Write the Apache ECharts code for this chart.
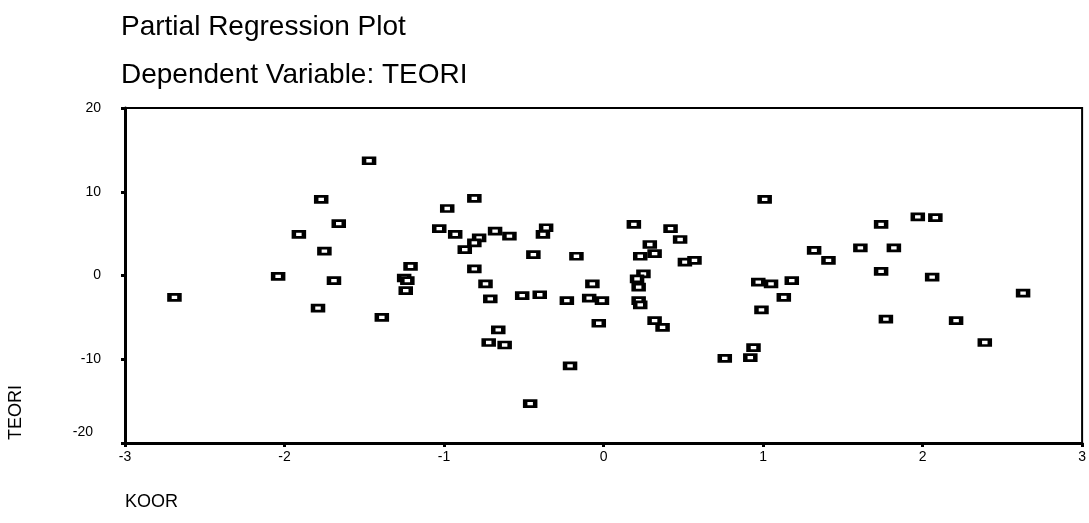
<!DOCTYPE html>
<html>
<head>
<meta charset="utf-8">
<title>Partial Regression Plot</title>
<script src="https://cdn.jsdelivr.net/npm/echarts@6/dist/echarts.min.js"></script>
<style>
  html, body { margin: 0; padding: 0; background: #fff; }
  #chart { width: 1089px; height: 523px; }
</style>
</head>
<body>
<div id="chart"></div>
<script>
// KOOR (x) and TEORI (y) residuals
var koor = [
  -2.69, -2.04, -1.91, -1.77, -1.79, -1.75, -1.69, -1.66, -1.47,
  -1.21, -1.25, -1.23, -1.24, -1.39,
  -1.03, -0.98, -0.93, -0.81, -0.78, -0.81, -0.68, -0.59, -0.87, -0.81, -0.74,
  -0.71, -0.66, -0.72, -0.62, -0.51, -0.44, -0.40, -0.36, -0.38,
  -0.23, -0.21, -0.17, -0.46, -0.09, -0.07, -0.01, -0.03,
  0.19, 0.23, 0.25, 0.21, 0.22, 0.22, 0.23, 0.29, 0.32, 0.32, 0.37,
  0.42, 0.48, 0.51, 0.57,
  0.76, 0.92, 0.94, 0.97, 0.99, 1.01, 1.05, 1.13, 1.18,
  1.32, 1.41, 1.61, 1.74, 1.74, 1.77, 1.82,
  1.97, 2.06, 2.08, 2.21, 2.39, 2.63
];
var teori = [
  -2.6, -0.1, 4.9, 9.1, -3.9, 2.9, -0.6, 6.2, 13.7,
  1.1, -0.3, -0.6, -1.8, -5.0,
  5.6, 8.0, 4.9, 9.2, 4.5, 3.9, 5.3, 4.7, 3.1, 0.8, -1.0,
  -2.8, -6.5, -8.0, -8.3, -2.4, 2.5, -2.3, 5.7, 4.9,
  -3.0, -10.8, 2.3, -15.3, -2.7, -1.0, -3.0, -5.7,
  6.1, 2.3, 0.2, -0.4, -1.4, -3.0, -3.5, 3.7, 2.6, -5.4, -6.2,
  5.6, 4.3, 1.6, 1.8,
  -9.9, -9.8, -8.6, -0.8, -4.1, 9.1, -1.0, -2.6, -0.6,
  3.0, 1.8, 3.3, 6.1, 0.5, -5.2, 3.3,
  7.0, -0.2, 6.9, -5.4, -8.0, -2.1
];
var xTicks = [-3, -2, -1, 0, 1, 2, 3];
var yTicks = [-20, -10, 0, 10, 20];

var points = koor.map(function(x, i) { return [x, teori[i]] });

var chart = echarts.init(document.getElementById('chart'));
var font = 'Liberation Sans, Arial, sans-serif';

chart.setOption({
  backgroundColor: '#fff',
  animation: false,
  textStyle: { fontFamily: font },
  grid: {
    left: 125,
    right: 5,
    top: 108,
    bottom: 80,
    show: true,
    borderColor: '#000',
    borderWidth: 2
  },
  xAxis: {
    type: 'value',
    min: xTicks[0],
    max: xTicks[xTicks.length - 1],
    interval: 1,
    splitLine: { show: false },
    axisLine: { onZero: false, lineStyle: { color: '#000', width: 3 } },
    axisTick: { show: true, length: 4, lineStyle: { color: '#000', width: 3 } },
    axisLabel: { color: '#000', fontSize: 14, margin: 7 }
  },
  yAxis: {
    type: 'value',
    min: yTicks[0],
    max: yTicks[yTicks.length - 1],
    interval: 10,
    splitLine: { show: false },
    axisLine: { onZero: false, lineStyle: { color: '#000', width: 3 } },
    axisTick: { show: true, length: 4, lineStyle: { color: '#000', width: 3 } },
    axisLabel: {
      color: '#000',
      fontSize: 14,
      margin: 24,
      formatter: function(v) {
        return v === yTicks[0] ? '{low|' + v + '}' : String(v)
      },
      rich: {
        low: { fontSize: 14, color: '#000', padding: [0, 8, 22, 0] }
      }
    }
  },
  graphic: [
    { type: 'text', left: 121, top: 13, style: { text: 'Partial Regression Plot', font: '28px ' + font, fill: '#000' } },
    { type: 'text', left: 121, top: 61, style: { text: 'Dependent Variable: TEORI', font: '28px ' + font, fill: '#000' } },
    { type: 'text', left: 125, top: 493, style: { text: 'KOOR', font: '18px ' + font, fill: '#000' } },
    { type: 'text', left: 7, top: 385, rotation: Math.PI / 2, style: { text: 'TEORI', font: '18px ' + font, fill: '#000' } }
  ],
  series: [{
    type: 'scatter',
    data: points,
    symbol: 'rect',
    symbolSize: [10, 6],
    itemStyle: { color: '#fff', borderColor: '#000', borderWidth: 3.5, opacity: 1 }
  }]
});
</script>
</body>
</html>
